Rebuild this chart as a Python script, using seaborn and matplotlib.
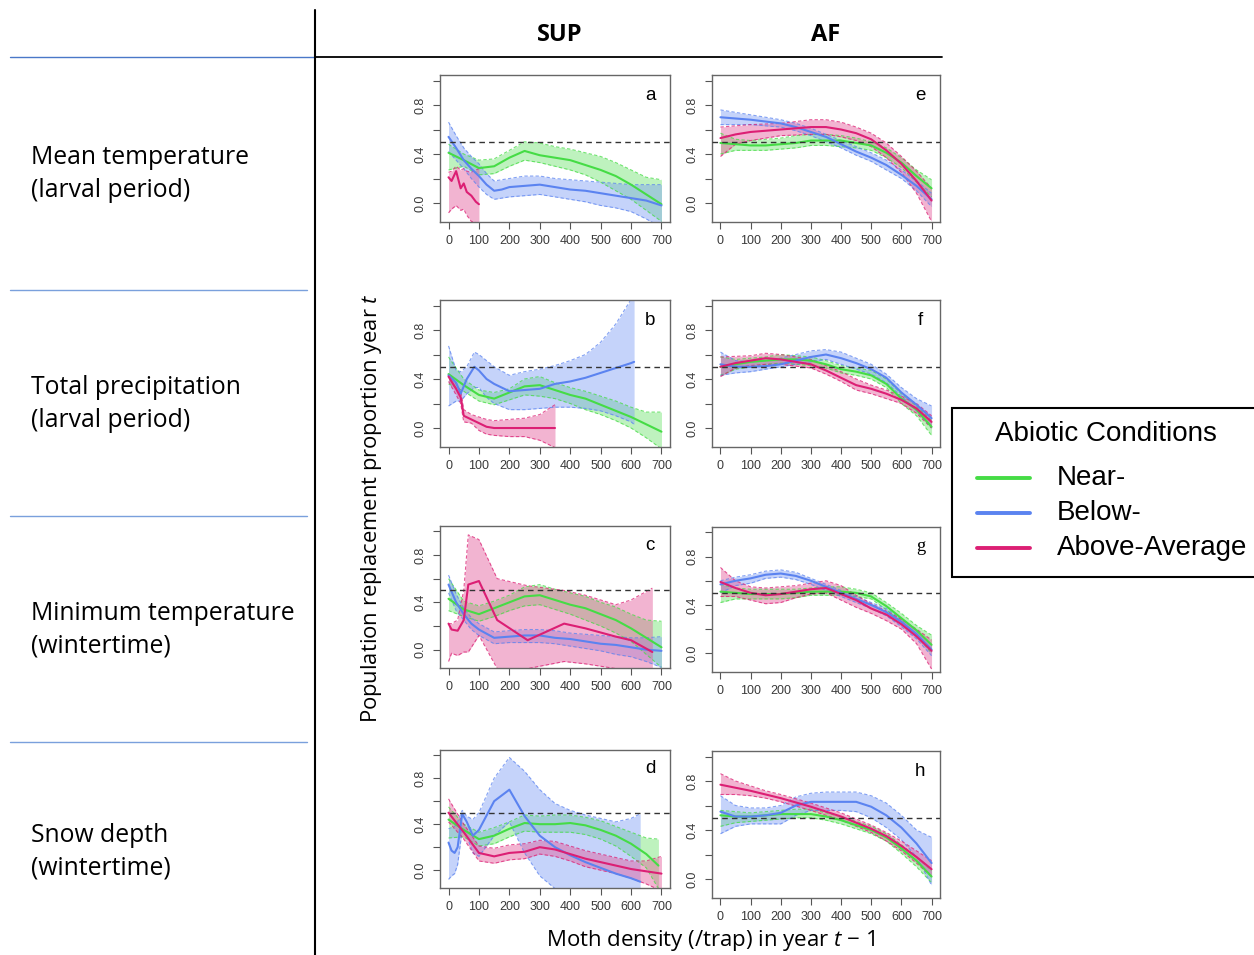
import numpy as np
import pandas as pd
import matplotlib
matplotlib.use("Agg")
import matplotlib.pyplot as plt
import seaborn as sns
from matplotlib.lines import Line2D
from matplotlib.patches import Rectangle

# ---------------------------------------------------------------- data
CONDITIONS = ["Near-", "Below-", "Above-Average"]
ROW_LABELS = ["Mean temperature\n(larval period)", "Total precipitation\n(larval period)",
              "Minimum temperature\n(wintertime)", "Snow depth\n(wintertime)"]
COL_LABELS = ["SUP", "AF"]
X_TICKS = [0, 100, 200, 300, 400, 500, 600, 700]
Y_TICKS = [0.0, 0.2, 0.4, 0.6, 0.8, 1.0]
Y_TICK_LABELS = ["0.0", "", "0.4", "", "0.8", ""]
G50 = [0, 50, 100, 150, 200, 250, 300, 350, 400, 450, 500, 550, 600, 650, 700]

# panel a (SUP, mean temperature)
A_NEAR_X = G50
A_NEAR_MID = [0.41, 0.35, 0.285, 0.30, 0.37, 0.425, 0.39, 0.37, 0.35, 0.31, 0.27, 0.22, 0.15, 0.07, -0.01]
A_NEAR_HI = [0.48, 0.40, 0.35, 0.36, 0.43, 0.50, 0.49, 0.46, 0.44, 0.41, 0.38, 0.33, 0.27, 0.21, 0.19]
A_NEAR_LO = [0.27, 0.30, 0.23, 0.24, 0.30, 0.35, 0.33, 0.30, 0.27, 0.23, 0.17, 0.10, 0.03, -0.06, -0.15]
A_BELOW_X = [0, 25, 50, 75, 100, 125, 150, 175, 200, 250, 300, 350, 400, 450, 500, 550, 600, 650, 700]
A_BELOW_MID = [0.54, 0.45, 0.35, 0.28, 0.22, 0.15, 0.10, 0.11, 0.13, 0.14, 0.15, 0.13, 0.11, 0.10, 0.08, 0.06, 0.04, 0.02, -0.02]
A_BELOW_HI = [0.66, 0.55, 0.45, 0.38, 0.32, 0.24, 0.18, 0.19, 0.20, 0.22, 0.22, 0.20, 0.19, 0.18, 0.17, 0.16, 0.15, 0.15, 0.15]
A_BELOW_LO = [0.42, 0.35, 0.28, 0.20, 0.13, 0.07, 0.03, 0.04, 0.05, 0.06, 0.07, 0.05, 0.03, 0.01, -0.02, -0.04, -0.07, -0.13, -0.20]
A_ABOVE_X = [0, 10, 25, 40, 50, 60, 75, 90, 100]
A_ABOVE_MID = [0.21, 0.18, 0.26, 0.12, 0.16, 0.09, 0.06, 0.01, -0.01]
A_ABOVE_HI = [0.25, 0.26, 0.30, 0.27, 0.28, 0.26, 0.25, 0.27, 0.28]
A_ABOVE_LO = [-0.08, -0.05, -0.02, -0.06, -0.05, -0.10, -0.15, -0.16, -0.16]

# panel b (SUP, precipitation)
B_NEAR_X = G50
B_NEAR_MID = [0.44, 0.35, 0.27, 0.24, 0.29, 0.34, 0.35, 0.31, 0.27, 0.24, 0.19, 0.14, 0.09, 0.03, -0.03]
B_NEAR_HI = [0.58, 0.40, 0.31, 0.29, 0.32, 0.40, 0.42, 0.37, 0.33, 0.30, 0.26, 0.22, 0.17, 0.13, 0.13]
B_NEAR_LO = [0.36, 0.30, 0.22, 0.19, 0.23, 0.27, 0.26, 0.24, 0.20, 0.15, 0.11, 0.06, 0.00, -0.08, -0.17]
B_BELOW_X = [0, 25, 40, 60, 85, 100, 125, 150, 200, 250, 300, 350, 400, 450, 500, 550, 600, 610]
B_BELOW_MID = [0.43, 0.37, 0.28, 0.40, 0.50, 0.47, 0.40, 0.36, 0.30, 0.31, 0.32, 0.36, 0.38, 0.41, 0.45, 0.49, 0.53, 0.54]
B_BELOW_HI = [0.67, 0.47, 0.46, 0.50, 0.62, 0.60, 0.55, 0.50, 0.43, 0.46, 0.48, 0.51, 0.55, 0.60, 0.70, 0.85, 1.05, 1.10]
B_BELOW_LO = [0.18, 0.22, 0.22, 0.28, 0.33, 0.33, 0.25, 0.20, 0.15, 0.15, 0.16, 0.17, 0.17, 0.16, 0.14, 0.10, 0.05, 0.03]
B_ABOVE_X = [0, 25, 40, 50, 75, 100, 125, 150, 200, 250, 300, 350]
B_ABOVE_MID = [0.42, 0.32, 0.25, 0.10, 0.07, 0.04, 0.01, 0.00, 0.00, 0.00, 0.00, 0.00]
B_ABOVE_HI = [0.44, 0.36, 0.30, 0.15, 0.11, 0.09, 0.07, 0.06, 0.07, 0.08, 0.11, 0.19]
B_ABOVE_LO = [0.38, 0.27, 0.20, 0.05, 0.04, -0.02, -0.05, -0.06, -0.07, -0.07, -0.10, -0.16]

# panel c (SUP, minimum temperature)
C_NEAR_X = G50
C_NEAR_MID = [0.43, 0.34, 0.30, 0.35, 0.40, 0.45, 0.46, 0.42, 0.38, 0.35, 0.30, 0.25, 0.18, 0.10, 0.02]
C_NEAR_HI = [0.60, 0.41, 0.37, 0.41, 0.46, 0.53, 0.55, 0.51, 0.48, 0.45, 0.40, 0.36, 0.30, 0.25, 0.24]
C_NEAR_LO = [0.33, 0.28, 0.24, 0.28, 0.33, 0.37, 0.38, 0.34, 0.30, 0.25, 0.20, 0.14, 0.07, -0.04, -0.15]
C_BELOW_X = [0, 25, 50, 75, 100, 150, 200, 250, 300, 350, 400, 450, 500, 550, 600, 650, 700]
C_BELOW_MID = [0.55, 0.40, 0.30, 0.22, 0.17, 0.10, 0.11, 0.12, 0.12, 0.10, 0.09, 0.07, 0.05, 0.04, 0.02, 0.00, -0.01]
C_BELOW_HI = [0.63, 0.47, 0.35, 0.27, 0.22, 0.15, 0.16, 0.17, 0.17, 0.16, 0.14, 0.13, 0.12, 0.11, 0.10, 0.10, 0.11]
C_BELOW_LO = [0.48, 0.33, 0.25, 0.17, 0.12, 0.05, 0.06, 0.06, 0.06, 0.05, 0.03, 0.01, -0.01, -0.04, -0.06, -0.10, -0.15]
C_ABOVE_X = [0, 10, 30, 50, 65, 100, 160, 260, 380, 450, 550, 600, 670]
C_ABOVE_MID = [0.22, 0.17, 0.16, 0.25, 0.55, 0.58, 0.25, 0.08, 0.22, 0.18, 0.11, 0.08, -0.02]
C_ABOVE_HI = [0.22, 0.22, 0.25, 0.50, 0.97, 0.93, 0.60, 0.54, 0.50, 0.46, 0.38, 0.42, 0.52]
C_ABOVE_LO = [-0.10, -0.03, -0.05, -0.02, -0.02, 0.12, -0.16, -0.16, -0.10, -0.12, -0.16, -0.16, -0.16]

# panel d (SUP, snow depth)
D_NEAR_X = [0, 50, 100, 150, 200, 250, 300, 350, 400, 450, 500, 550, 600, 650, 690]
D_NEAR_MID = [0.44, 0.35, 0.27, 0.30, 0.36, 0.41, 0.40, 0.40, 0.41, 0.39, 0.35, 0.30, 0.23, 0.14, 0.04]
D_NEAR_HI = [0.55, 0.40, 0.33, 0.37, 0.42, 0.48, 0.47, 0.48, 0.48, 0.46, 0.43, 0.38, 0.33, 0.28, 0.27]
D_NEAR_LO = [0.28, 0.29, 0.21, 0.23, 0.29, 0.34, 0.33, 0.33, 0.33, 0.31, 0.27, 0.21, 0.12, 0.02, -0.16]
D_BELOW_X = [0, 10, 20, 30, 45, 60, 80, 100, 150, 200, 250, 300, 350, 400, 450, 500, 550, 600, 630]
D_BELOW_MID = [0.24, 0.17, 0.15, 0.20, 0.49, 0.42, 0.30, 0.35, 0.60, 0.70, 0.47, 0.30, 0.20, 0.13, 0.07, 0.02, -0.03, -0.07, -0.10]
D_BELOW_HI = [0.36, 0.37, 0.38, 0.42, 0.52, 0.47, 0.44, 0.50, 0.80, 0.98, 0.86, 0.70, 0.58, 0.52, 0.48, 0.45, 0.42, 0.45, 0.49]
D_BELOW_LO = [-0.08, -0.05, -0.03, 0.05, 0.35, 0.30, 0.15, 0.12, 0.30, 0.42, 0.15, -0.05, -0.16, -0.16, -0.16, -0.16, -0.16, -0.16, -0.16]
D_ABOVE_X = G50
D_ABOVE_MID = [0.50, 0.33, 0.15, 0.12, 0.15, 0.16, 0.20, 0.18, 0.14, 0.10, 0.07, 0.04, 0.01, -0.01, -0.03]
D_ABOVE_HI = [0.62, 0.40, 0.21, 0.19, 0.22, 0.23, 0.26, 0.25, 0.21, 0.17, 0.14, 0.11, 0.08, 0.08, 0.12]
D_ABOVE_LO = [0.42, 0.27, 0.08, 0.06, 0.09, 0.10, 0.14, 0.12, 0.08, 0.03, 0.00, -0.03, -0.07, -0.12, -0.18]

# panel e (AF, mean temperature)
E_NEAR_X = G50
E_NEAR_MID = [0.49, 0.48, 0.47, 0.47, 0.48, 0.49, 0.51, 0.51, 0.51, 0.49, 0.47, 0.41, 0.33, 0.22, 0.12]
E_NEAR_HI = [0.57, 0.52, 0.51, 0.52, 0.53, 0.55, 0.56, 0.56, 0.55, 0.53, 0.50, 0.45, 0.37, 0.27, 0.19]
E_NEAR_LO = [0.40, 0.43, 0.43, 0.43, 0.44, 0.45, 0.47, 0.47, 0.46, 0.45, 0.43, 0.37, 0.29, 0.17, 0.05]
E_BELOW_X = G50
E_BELOW_MID = [0.70, 0.69, 0.68, 0.665, 0.65, 0.62, 0.58, 0.54, 0.48, 0.42, 0.37, 0.31, 0.23, 0.14, 0.03]
E_BELOW_HI = [0.76, 0.74, 0.72, 0.70, 0.68, 0.65, 0.61, 0.56, 0.51, 0.46, 0.41, 0.35, 0.27, 0.18, 0.08]
E_BELOW_LO = [0.64, 0.64, 0.64, 0.63, 0.62, 0.59, 0.55, 0.50, 0.45, 0.39, 0.34, 0.27, 0.20, 0.10, -0.03]
E_ABOVE_X = G50
E_ABOVE_MID = [0.53, 0.56, 0.58, 0.59, 0.60, 0.61, 0.62, 0.62, 0.60, 0.57, 0.52, 0.43, 0.32, 0.18, 0.02]
E_ABOVE_HI = [0.62, 0.63, 0.64, 0.645, 0.65, 0.665, 0.68, 0.68, 0.66, 0.62, 0.57, 0.49, 0.38, 0.26, 0.12]
E_ABOVE_LO = [0.38, 0.48, 0.51, 0.53, 0.55, 0.555, 0.56, 0.56, 0.54, 0.51, 0.46, 0.37, 0.25, 0.08, -0.15]

# panel f (AF, precipitation)
F_NEAR_X = G50
F_NEAR_MID = [0.50, 0.52, 0.54, 0.55, 0.56, 0.56, 0.55, 0.52, 0.48, 0.46, 0.43, 0.36, 0.24, 0.15, 0.01]
F_NEAR_HI = [0.58, 0.56, 0.57, 0.58, 0.60, 0.59, 0.58, 0.55, 0.51, 0.49, 0.47, 0.40, 0.28, 0.18, 0.06]
F_NEAR_LO = [0.43, 0.48, 0.50, 0.52, 0.53, 0.52, 0.51, 0.49, 0.45, 0.43, 0.40, 0.33, 0.20, 0.10, -0.06]
F_BELOW_X = G50
F_BELOW_MID = [0.52, 0.50, 0.50, 0.505, 0.52, 0.55, 0.58, 0.60, 0.57, 0.53, 0.48, 0.41, 0.29, 0.19, 0.08]
F_BELOW_HI = [0.62, 0.55, 0.54, 0.55, 0.57, 0.60, 0.63, 0.64, 0.62, 0.57, 0.52, 0.44, 0.33, 0.24, 0.18]
F_BELOW_LO = [0.43, 0.45, 0.46, 0.48, 0.50, 0.52, 0.54, 0.56, 0.52, 0.48, 0.44, 0.37, 0.26, 0.14, 0.00]
F_ABOVE_X = G50
F_ABOVE_MID = [0.50, 0.53, 0.55, 0.57, 0.56, 0.54, 0.52, 0.47, 0.41, 0.35, 0.32, 0.28, 0.23, 0.16, 0.05]
F_ABOVE_HI = [0.58, 0.585, 0.59, 0.61, 0.60, 0.58, 0.56, 0.51, 0.46, 0.40, 0.35, 0.31, 0.26, 0.20, 0.10]
F_ABOVE_LO = [0.42, 0.49, 0.51, 0.52, 0.52, 0.505, 0.49, 0.44, 0.38, 0.31, 0.28, 0.24, 0.20, 0.12, 0.00]

# panel g (AF, minimum temperature)
G_NEAR_X = G50
G_NEAR_MID = [0.51, 0.50, 0.49, 0.49, 0.49, 0.50, 0.51, 0.51, 0.51, 0.50, 0.47, 0.39, 0.29, 0.19, 0.07]
G_NEAR_HI = [0.57, 0.54, 0.53, 0.53, 0.53, 0.53, 0.54, 0.55, 0.55, 0.53, 0.50, 0.42, 0.33, 0.23, 0.15]
G_NEAR_LO = [0.42, 0.45, 0.45, 0.45, 0.45, 0.46, 0.48, 0.48, 0.48, 0.47, 0.45, 0.36, 0.26, 0.15, 0.00]
G_BELOW_X = G50
G_BELOW_MID = [0.57, 0.60, 0.62, 0.65, 0.66, 0.64, 0.60, 0.55, 0.50, 0.45, 0.40, 0.34, 0.26, 0.16, 0.03]
G_BELOW_HI = [0.60, 0.63, 0.65, 0.68, 0.69, 0.67, 0.62, 0.57, 0.52, 0.47, 0.42, 0.37, 0.28, 0.19, 0.07]
G_BELOW_LO = [0.50, 0.56, 0.58, 0.62, 0.63, 0.61, 0.57, 0.52, 0.47, 0.42, 0.37, 0.31, 0.22, 0.12, -0.02]
G_ABOVE_X = G50
G_ABOVE_MID = [0.59, 0.54, 0.50, 0.48, 0.49, 0.51, 0.53, 0.54, 0.49, 0.44, 0.37, 0.32, 0.24, 0.14, 0.02]
G_ABOVE_HI = [0.71, 0.60, 0.55, 0.54, 0.55, 0.56, 0.58, 0.60, 0.56, 0.48, 0.41, 0.35, 0.28, 0.20, 0.11]
G_ABOVE_LO = [0.47, 0.47, 0.44, 0.41, 0.42, 0.46, 0.49, 0.50, 0.44, 0.38, 0.33, 0.27, 0.20, 0.08, -0.13]

# panel h (AF, snow depth)
H_NEAR_X = G50
H_NEAR_MID = [0.52, 0.51, 0.51, 0.52, 0.53, 0.53, 0.53, 0.51, 0.48, 0.44, 0.40, 0.34, 0.25, 0.15, 0.02]
H_NEAR_HI = [0.56, 0.55, 0.54, 0.55, 0.56, 0.57, 0.57, 0.54, 0.51, 0.47, 0.43, 0.37, 0.28, 0.18, 0.07]
H_NEAR_LO = [0.43, 0.46, 0.47, 0.48, 0.49, 0.50, 0.50, 0.48, 0.45, 0.41, 0.37, 0.31, 0.21, 0.10, -0.03]
H_BELOW_X = G50
H_BELOW_MID = [0.55, 0.51, 0.51, 0.52, 0.54, 0.60, 0.63, 0.63, 0.63, 0.63, 0.59, 0.52, 0.42, 0.29, 0.13]
H_BELOW_HI = [0.68, 0.60, 0.58, 0.58, 0.60, 0.67, 0.70, 0.71, 0.71, 0.71, 0.68, 0.62, 0.52, 0.40, 0.34]
H_BELOW_LO = [0.37, 0.43, 0.45, 0.45, 0.45, 0.52, 0.56, 0.56, 0.56, 0.55, 0.50, 0.42, 0.32, 0.18, -0.05]
H_ABOVE_X = G50
H_ABOVE_MID = [0.77, 0.745, 0.72, 0.69, 0.66, 0.625, 0.59, 0.55, 0.51, 0.46, 0.41, 0.35, 0.27, 0.18, 0.08]
H_ABOVE_HI = [0.86, 0.80, 0.76, 0.72, 0.69, 0.655, 0.62, 0.58, 0.54, 0.49, 0.44, 0.38, 0.31, 0.23, 0.15]
H_ABOVE_LO = [0.69, 0.69, 0.68, 0.66, 0.63, 0.595, 0.56, 0.52, 0.48, 0.43, 0.38, 0.31, 0.23, 0.13, 0.02]

# ---------------------------------------------------------------- style
sns.set_theme(style="white")
plt.rcParams["font.family"] = ["Open Sans", "DejaVu Sans"]
plt.rcParams["text.color"] = "black"
plt.rcParams["mathtext.fontset"] = "custom"
plt.rcParams["mathtext.it"] = "Open Sans:italic"
plt.rcParams["mathtext.rm"] = "Open Sans"

LINE_COLORS = {"Near-": "#45dc45", "Below-": "#5b83f0", "Above-Average": "#dc1f74"}
FILL_COLORS = {"Near-": "#6fe46f", "Below-": "#7f9ff5", "Above-Average": "#e45a9a"}

W, H = 1254, 955
fig = plt.figure(figsize=(W / 100, H / 100), dpi=100)


def add_ax(left, top, right, bottom):
    return fig.add_axes([left / W, 1 - bottom / H, (right - left) / W, (bottom - top) / H])


def series(prefix):
    g = globals()
    out = []
    for cond, key in zip(CONDITIONS, ["NEAR", "BELOW", "ABOVE"]):
        out.append((cond, g[f"{prefix}_{key}_X"], g[f"{prefix}_{key}_MID"],
                    g[f"{prefix}_{key}_LO"], g[f"{prefix}_{key}_HI"]))
    return out


PANELS = [
    ("a", (440, 75, 670, 222)), ("e", (712, 75, 940, 222)),
    ("b", (440, 300, 670, 447)), ("f", (712, 300, 940, 447)),
    ("c", (440, 526, 670, 668)), ("g", (712, 527, 940, 672)),
    ("d", (440, 750, 670, 888)), ("h", (712, 751, 940, 898)),
]

for letter, box in PANELS:
    ax = add_ax(*box)
    data = series(letter.upper())
    for cond, x, mid, lo, hi in data:
        ax.fill_between(x, lo, hi, color=FILL_COLORS[cond], alpha=0.45, lw=0, zorder=1)
    for cond, x, mid, lo, hi in data:
        ax.plot(x, lo, ls=(0, (3, 2)), color=LINE_COLORS[cond], lw=0.8, alpha=0.75, zorder=2)
        ax.plot(x, hi, ls=(0, (3, 2)), color=LINE_COLORS[cond], lw=0.8, alpha=0.75, zorder=2)
    for cond, x, mid, lo, hi in data:
        df = pd.DataFrame({"x": x, "y": mid})
        sns.lineplot(data=df, x="x", y="y", ax=ax, color=LINE_COLORS[cond], lw=1.5,
                     sort=False, estimator=None, zorder=3)
    ax.axhline(0.5, color="#333333", ls=(0, (4, 3)), lw=1.0, zorder=4)
    ax.set_xlim(-28, 728)
    ax.set_ylim(-0.155, 1.045)
    ax.set_xticks(X_TICKS)
    ax.set_xticklabels([str(t) for t in X_TICKS], family=["Liberation Sans"])
    ax.set_yticks(Y_TICKS)
    ax.set_yticklabels(Y_TICK_LABELS, rotation=90, va="center", family=["Liberation Sans"])
    ax.tick_params(axis="both", which="major", length=5, width=0.8, color="#555555",
                   labelsize=9, labelcolor="#3a3a3a", pad=4.5, direction="out",
                   bottom=True, left=True)
    ax.set_xlabel("")
    ax.set_ylabel("")
    for s in ax.spines.values():
        s.set_color("#666666")
        s.set_linewidth(1.0)
    fam = ["Liberation Serif"] if letter == "g" else ["Liberation Sans"]
    ax.text(663, 0.88, letter, fontsize=13.5, family=fam, ha="center", va="center", color="black")

# ---------------------------------------------------------------- frame lines / labels
def hline(y, x0, x1, color, lw):
    fig.add_artist(Line2D([x0 / W, x1 / W], [1 - y / H, 1 - y / H], color=color, lw=lw))

hline(57, 10, 315, "#4a78c8", 1.0)
hline(57, 315, 942, "black", 1.3)
for yy in [290, 516, 742]:
    hline(yy, 10, 307, "#7aa0dc", 1.0)
fig.add_artist(Line2D([315 / W, 315 / W], [1 - 10 / H, 0], color="black", lw=1.5))

for lab, yc in zip(ROW_LABELS, [174, 404, 630, 852]):
    fig.text(31 / W, 1 - yc / H, lab, fontsize=17.8, ha="left", va="center", linespacing=1.38,
             color="black")

for lab, xc in zip(COL_LABELS, [560, 826]):
    fig.text(xc / W, 1 - 35 / H, lab, fontsize=17, fontweight="bold", ha="center", va="center",
             color="black")

fig.text(372 / W, 1 - 508 / H, "Population replacement proportion year $t$", fontsize=15.8,
         rotation=90, ha="center", va="center", color="black")
fig.text(711 / W, 1 - 940 / H, "Moth density (/trap) in year $t$ \u2212 1", fontsize=16,
         ha="center", va="center", color="black")

# ---------------------------------------------------------------- legend
fig.add_artist(Rectangle((952 / W, 1 - 577 / H), 320 / W, 169 / H, transform=fig.transFigure,
                         facecolor="white", edgecolor="black", lw=1.5, zorder=5))
fig.text(1106 / W, 1 - 434 / H, "Abiotic Conditions", fontsize=20, family=["Liberation Sans"],
         ha="center", va="center", zorder=6, color="black")
for cond, yy in zip(CONDITIONS, [478, 513, 548]):
    fig.add_artist(Line2D([977 / W, 1030 / W], [1 - yy / H, 1 - yy / H], color=LINE_COLORS[cond],
                          lw=2.8, zorder=6))
    fig.text(1057 / W, 1 - yy / H, cond, fontsize=20, family=["Liberation Sans"],
             ha="left", va="center", zorder=6, color="black")

fig.savefig("out.png", dpi=100)
